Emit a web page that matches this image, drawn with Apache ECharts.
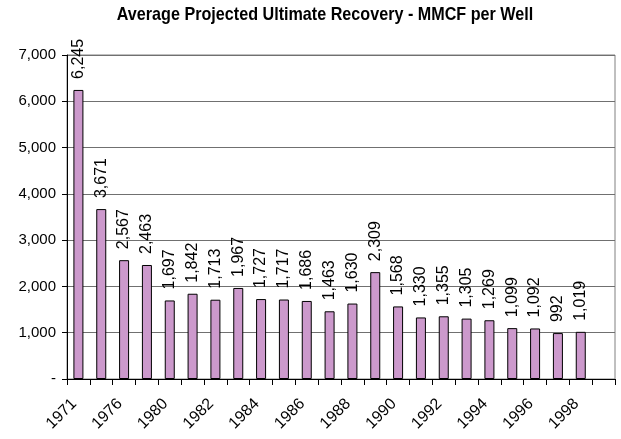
<!DOCTYPE html>
<html>
<head>
<meta charset="utf-8">
<script src="https://cdn.jsdelivr.net/npm/echarts@6/dist/echarts.min.js"></script>
<style>
  html, body { margin: 0; padding: 0; background: #fff; }
  #chart { width: 621px; height: 439px; }
</style>
</head>
<body>
<div id="chart"></div>
<script>
// categories (only every other one is labelled in the original)
var years = ['1971', '1974', '1976', '1978', '1980', '1981', '1982', '1983', '1984', '1985',
  '1986', '1987', '1988', '1989', '1990', '1991', '1992', '1993', '1994', '1995',
  '1996', '1997', '1998', '1999']
// average projected ultimate recovery, MMCF per well (last slot empty)
var recovery = [6245, 3671, 2567, 2463, 1697, 1842, 1713, 1967, 1727, 1717,
  1686, 1463, 1630, 2309, 1568, 1330, 1355, 1305, 1269, 1099,
  1092, 992, 1019, null]
var yMin = 0
var yMax = 7000
var yStep = 1000
var chartTitle = 'Average Projected Ultimate Recovery - MMCF per Well'

var fmt = function(v) {
  return v === 0 ? '-' : Number(v).toLocaleString('en-US')
}

var chart = echarts.init(document.getElementById('chart'))
var option = {
  animation: false,
  // title drawn as a graphic text so it can be squeezed like the original narrow font
  graphic: [{
    type: 'text',
    x: 325,
    y: 5,
    scaleX: 0.85,
    style: {
      text: chartTitle,
      textAlign: 'center',
      textVerticalAlign: 'top',
      font: "bold 19px 'Liberation Sans', Arial",
      fill: '#000'
    }
  }],
  grid: {
    left: 67,
    right: 6,
    top: 55,
    bottom: 60,
    show: true,
    borderColor: '#808080',
    borderWidth: 1
  },
  xAxis: {
    type: 'category',
    data: years,
    boundaryGap: true,
    axisLine: { lineStyle: { color: '#000', width: 1 } },
    axisTick: { show: true, interval: 0, length: 6, lineStyle: { color: '#000' } },
    axisLabel: {
      interval: 1,
      rotate: 45,
      margin: 18,
      padding: [0, 6, 0, 0],
      fontFamily: "'Liberation Sans', Arial",
      fontSize: 16,
      color: '#000'
    }
  },
  yAxis: {
    type: 'value',
    min: yMin,
    max: yMax,
    interval: yStep,
    axisLine: { show: true, lineStyle: { color: '#000', width: 1 } },
    axisTick: { show: true, length: 5, lineStyle: { color: '#000' } },
    axisLabel: {
      formatter: fmt,
      margin: 11,
      fontFamily: "'Liberation Sans', Arial",
      fontSize: 15,
      color: '#000'
    },
    splitLine: { lineStyle: { color: '#707070', width: 1 } }
  },
  series: [{
    type: 'bar',
    data: recovery,
    barWidth: 10,
    itemStyle: {
      color: '#cc99cc',
      borderColor: '#000',
      borderWidth: 1
    },
    label: {
      show: true,
      position: 'top',
      rotate: 90,
      align: 'left',
      verticalAlign: 'middle',
      distance: 11,
      formatter: function(p) { return fmt(p.value) },
      fontFamily: "'Liberation Sans', Arial",
      fontSize: 16,
      color: '#000'
    }
  }]
}
chart.setOption(option)
</script>
</body>
</html>
